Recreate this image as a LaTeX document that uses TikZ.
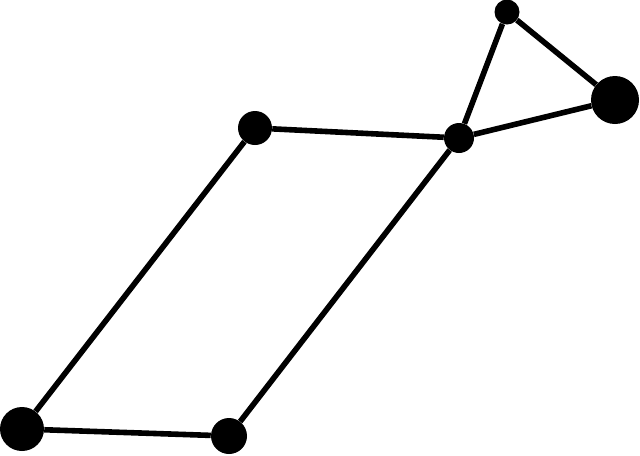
\documentclass[tikz,border=0pt]{standalone}
\usepackage{tikz}
\usetikzlibrary{shapes,arrows,positioning}

\tikzset{
	dot/.style={shape=circle, fill=black, inner sep=0pt, minimum size=#1},
	link/.style={line width=4.2pt}
}

\begin{document}
\begin{tikzpicture}[x=0.75pt, y=-0.75pt]
	\useasboundingbox (0,0) rectangle (640,455);
	\node[dot=25.5pt] (a) at (255,128) {};
	\node[dot=22.5pt] (b) at (459,138) {};
	\node[dot=18.75pt] (c) at (507,12) {};
	\node[dot=36pt] (d) at (615,100) {};
	\node[dot=33pt] (e) at (22,429) {};
	\node[dot=27pt] (f) at (229,436) {};
	
	\path [-, link]
	(a) edge (b)
	(a) edge (e)
	(e) edge (f)
	(f) edge (b)
	(b) edge (c)
	(c) edge (d)
	(d) edge (b);
\end{tikzpicture}
\end{document}
